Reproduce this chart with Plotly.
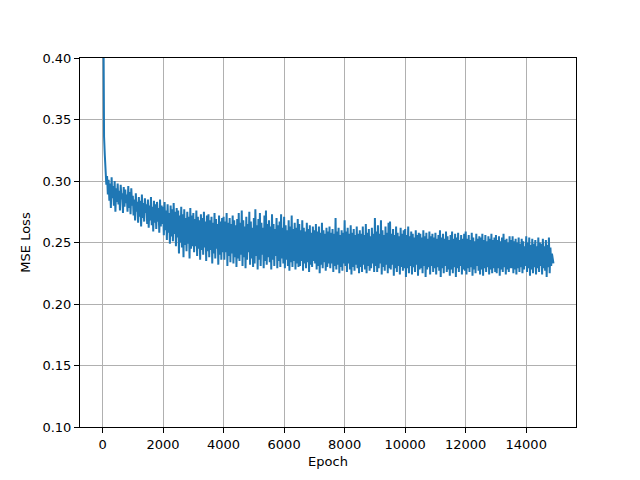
import plotly.graph_objects as go

epochs = list(range(0, 14901, 25))

loss = [
    0.560, 0.372, 0.336, 0.321, 0.309, 0.297, 0.304, 0.289, 0.301, 0.284, 0.298, 0.278, 0.303, 0.286, 0.296, 0.280, 0.300, 0.275, 0.294, 0.283,
    0.298, 0.281, 0.292, 0.276, 0.297, 0.285, 0.290, 0.274, 0.295, 0.279, 0.293, 0.282, 0.289, 0.275, 0.296, 0.278, 0.291, 0.273, 0.294, 0.280,
    0.288, 0.272, 0.285, 0.268, 0.290, 0.275, 0.283, 0.266, 0.287, 0.271, 0.284, 0.263, 0.289, 0.270, 0.282, 0.267, 0.286, 0.274, 0.281, 0.265,
    0.285, 0.262, 0.280, 0.268, 0.287, 0.264, 0.279, 0.259, 0.284, 0.266, 0.281, 0.261, 0.283, 0.267, 0.278, 0.258, 0.285, 0.263, 0.280, 0.265,
    0.279, 0.256, 0.283, 0.260, 0.276, 0.252, 0.281, 0.258, 0.274, 0.249, 0.280, 0.255, 0.277, 0.251, 0.282, 0.257, 0.275, 0.247, 0.278, 0.254,
    0.276, 0.241, 0.272, 0.250, 0.279, 0.246, 0.273, 0.238, 0.277, 0.248, 0.270, 0.243, 0.275, 0.249, 0.271, 0.237, 0.278, 0.245, 0.272, 0.247,
    0.274, 0.242, 0.269, 0.247, 0.276, 0.239, 0.271, 0.245, 0.268, 0.236, 0.273, 0.244, 0.270, 0.240, 0.275, 0.246, 0.267, 0.235, 0.272, 0.243,
    0.273, 0.238, 0.268, 0.244, 0.271, 0.233, 0.266, 0.241, 0.274, 0.237, 0.269, 0.245, 0.265, 0.232, 0.272, 0.240, 0.267, 0.236, 0.270, 0.242,
    0.271, 0.236, 0.267, 0.242, 0.274, 0.231, 0.266, 0.239, 0.270, 0.234, 0.265, 0.241, 0.272, 0.233, 0.268, 0.238, 0.264, 0.230, 0.269, 0.237,
    0.274, 0.235, 0.266, 0.240, 0.276, 0.231, 0.268, 0.238, 0.263, 0.229, 0.271, 0.236, 0.265, 0.242, 0.275, 0.232, 0.267, 0.237, 0.262, 0.230,
    0.270, 0.233, 0.277, 0.239, 0.264, 0.228, 0.269, 0.236, 0.274, 0.231, 0.266, 0.240, 0.262, 0.229, 0.272, 0.235, 0.276, 0.232, 0.265, 0.238,
    0.268, 0.234, 0.263, 0.228, 0.273, 0.236, 0.265, 0.231, 0.261, 0.239, 0.270, 0.229, 0.264, 0.235, 0.267, 0.230, 0.273, 0.237, 0.262, 0.233,
    0.271, 0.229, 0.264, 0.236, 0.260, 0.231, 0.268, 0.227, 0.263, 0.234, 0.272, 0.230, 0.261, 0.235, 0.266, 0.228, 0.262, 0.233, 0.269, 0.230,
    0.265, 0.231, 0.260, 0.235, 0.268, 0.227, 0.262, 0.233, 0.259, 0.229, 0.266, 0.234, 0.261, 0.226, 0.264, 0.232, 0.258, 0.230, 0.263, 0.235,
    0.260, 0.233, 0.265, 0.228, 0.259, 0.231, 0.263, 0.225, 0.258, 0.232, 0.266, 0.229, 0.260, 0.234, 0.257, 0.227, 0.262, 0.230, 0.259, 0.233,
    0.263, 0.229, 0.258, 0.233, 0.261, 0.226, 0.257, 0.231, 0.270, 0.228, 0.259, 0.232, 0.262, 0.225, 0.256, 0.230, 0.260, 0.227, 0.258, 0.233,
    0.268, 0.231, 0.259, 0.226, 0.262, 0.233, 0.257, 0.228, 0.264, 0.224, 0.258, 0.230, 0.261, 0.227, 0.256, 0.232, 0.263, 0.229, 0.257, 0.225,
    0.260, 0.230, 0.257, 0.226, 0.263, 0.232, 0.256, 0.228, 0.265, 0.225, 0.258, 0.231, 0.261, 0.227, 0.255, 0.229, 0.262, 0.233, 0.257, 0.226,
    0.270, 0.231, 0.259, 0.226, 0.264, 0.229, 0.257, 0.233, 0.268, 0.224, 0.260, 0.230, 0.256, 0.227, 0.263, 0.232, 0.258, 0.225, 0.266, 0.229,
    0.267, 0.228, 0.257, 0.232, 0.261, 0.223, 0.256, 0.229, 0.263, 0.226, 0.258, 0.231, 0.255, 0.224, 0.262, 0.230, 0.257, 0.227, 0.260, 0.229,
    0.261, 0.222, 0.256, 0.229, 0.263, 0.225, 0.255, 0.231, 0.259, 0.224, 0.257, 0.230, 0.254, 0.226, 0.260, 0.232, 0.256, 0.223, 0.258, 0.228,
    0.257, 0.229, 0.254, 0.225, 0.260, 0.231, 0.255, 0.222, 0.258, 0.228, 0.253, 0.230, 0.259, 0.224, 0.255, 0.231, 0.257, 0.226, 0.254, 0.229,
    0.258, 0.224, 0.253, 0.230, 0.256, 0.227, 0.260, 0.222, 0.254, 0.229, 0.257, 0.225, 0.253, 0.231, 0.259, 0.226, 0.255, 0.228, 0.252, 0.223,
    0.256, 0.228, 0.259, 0.225, 0.253, 0.230, 0.257, 0.222, 0.254, 0.229, 0.258, 0.226, 0.252, 0.231, 0.256, 0.224, 0.253, 0.228, 0.257, 0.227,
    0.259, 0.224, 0.253, 0.229, 0.256, 0.226, 0.252, 0.230, 0.258, 0.223, 0.254, 0.228, 0.251, 0.225, 0.257, 0.231, 0.253, 0.227, 0.255, 0.224,
    0.254, 0.228, 0.257, 0.223, 0.252, 0.229, 0.256, 0.226, 0.251, 0.230, 0.255, 0.224, 0.253, 0.228, 0.257, 0.225, 0.252, 0.229, 0.254, 0.226,
    0.256, 0.225, 0.252, 0.229, 0.255, 0.223, 0.251, 0.228, 0.254, 0.226, 0.257, 0.230, 0.252, 0.224, 0.253, 0.228, 0.250, 0.226, 0.255, 0.229,
    0.252, 0.229, 0.255, 0.225, 0.251, 0.228, 0.253, 0.224, 0.250, 0.229, 0.254, 0.226, 0.249, 0.230, 0.253, 0.225, 0.251, 0.228, 0.247, 0.231,
    0.255, 0.226, 0.250, 0.229, 0.254, 0.223, 0.248, 0.228, 0.253, 0.225, 0.249, 0.230, 0.252, 0.224, 0.247, 0.229, 0.254, 0.226, 0.250, 0.231,
    0.249, 0.224, 0.253, 0.229, 0.247, 0.227, 0.252, 0.222, 0.248, 0.230, 0.254, 0.225, 0.246, 0.231, 0.241, 0.236, 0.233,
]

x_ticks = [0, 2000, 4000, 6000, 8000, 10000, 12000, 14000]
y_ticks = [0.10, 0.15, 0.20, 0.25, 0.30, 0.35, 0.40]

fig = go.Figure()
fig.add_trace(go.Scatter(
    x=epochs, y=loss, mode="lines",
    line=dict(color="#1f77b4", width=2),
    showlegend=False, hoverinfo="skip",
))

axis_common = dict(
    showgrid=True, gridcolor="#b0b0b0", gridwidth=1,
    showline=True, linecolor="black", linewidth=1, mirror=True,
    ticks="outside", ticklen=5, tickwidth=1, tickcolor="black",
    zeroline=False,
    tickfont=dict(family="DejaVu Sans", size=13, color="black"),
)

# the page body adds an 8px offset, so the figure is 8px smaller and margins shifted
fig.update_layout(
    width=632, height=472,
    margin=dict(l=72, r=64, t=50, b=53),
    paper_bgcolor="white", plot_bgcolor="white",
    font=dict(family="DejaVu Sans", size=13, color="black"),
    xaxis=dict(
        range=[-745, 15645], tickvals=x_ticks,
        ticktext=[str(v) for v in x_ticks],
        title=dict(text="Epoch", standoff=6,
                   font=dict(family="DejaVu Sans", size=13)),
        **axis_common,
    ),
    yaxis=dict(
        range=[0.10, 0.40], tickvals=y_ticks,
        ticktext=[f"{v:.2f}" for v in y_ticks],
        title=dict(text="MSE Loss", standoff=8,
                   font=dict(family="DejaVu Sans", size=13)),
        **axis_common,
    ),
)

fig.write_html("out.html")
